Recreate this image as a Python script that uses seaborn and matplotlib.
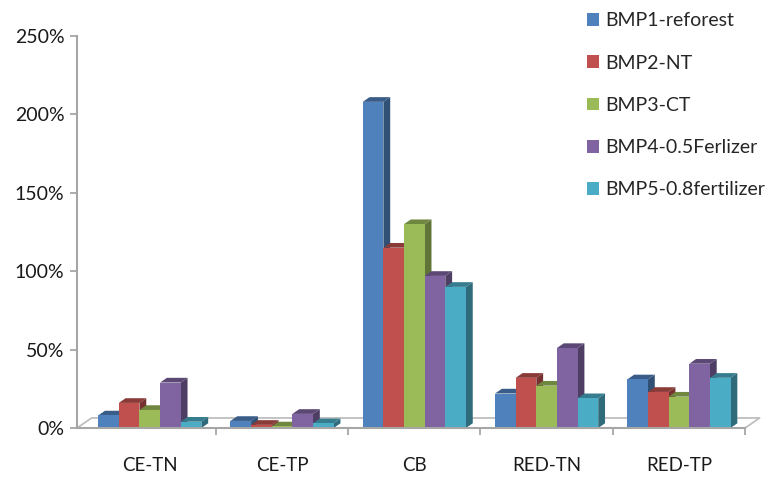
import numpy as np
import pandas as pd
import matplotlib.pyplot as plt
import matplotlib.colors as mcolors
from matplotlib.patches import Polygon
import seaborn as sns

sns.set_style("white")
plt.rcParams["font.family"] = ["Lato", "DejaVu Sans"]

categories = ["CE-TN", "CE-TP", "CB", "RED-TN", "RED-TP"]
scenarios = ["BMP1-reforest", "BMP2-NT", "BMP3-CT", "BMP4-0.5Ferlizer", "BMP5-0.8fertilizer"]
colors = ["#4F81BD", "#C0504D", "#9BBB59", "#8064A2", "#4BACC6"]

# values in %
bmp1 = [8, 4.5, 208, 22, 31]
bmp2 = [16, 2, 115, 32, 23]
bmp3 = [11.5, 1, 130, 27, 20]
bmp4 = [29, 9, 97, 51, 41]
bmp5 = [4, 3, 90, 19, 32]

df = pd.DataFrame({
    "Category": categories * 5,
    "Scenario": np.repeat(scenarios, len(categories)),
    "Value": bmp1 + bmp2 + bmp3 + bmp4 + bmp5,
})

fig = plt.figure(figsize=(7.81, 4.78), dpi=100)
ax = fig.add_axes([0.0986, 0.1046, 0.8554, 0.8201])

sns.barplot(data=df, x="Category", y="Value", hue="Scenario", palette=colors,
            saturation=1, width=0.78, linewidth=0, ax=ax)

# fake 3D: side and top faces built from each bar patch
dy = 3.0
for i, cont in enumerate(ax.containers):
    base = np.array(mcolors.to_rgb(colors[i]))
    for p in cont.patches:
        x0, w, h = p.get_x(), p.get_width(), p.get_height()
        dx = 0.33 * w
        x1 = x0 + w
        z = 2 + i * 0.1
        p.set_zorder(z + 0.01)
        side = Polygon([(x1, 0), (x1 + dx, dy), (x1 + dx, h + dy), (x1, h)],
                       closed=True, facecolor=base * 0.62, linewidth=0, zorder=z)
        top = Polygon([(x0, h), (x0 + dx, h + dy), (x1 + dx, h + dy), (x1, h)],
                      closed=True, facecolor=base * 0.72, linewidth=0, zorder=z)
        ax.add_patch(side)
        ax.add_patch(top)

ax.set_ylim(0, 250)
ax.set_xlim(-0.55, 4.5)
ax.set_yticks([0, 50, 100, 150, 200, 250])
ax.set_yticklabels(["0%", "50%", "100%", "150%", "200%", "250%"])
ax.set_xlabel("")
ax.set_ylabel("")

# floor outline
fx, fy = 0.11, 6.4
gray = "#A6A6A6"
ax.plot([-0.55, -0.55 + fx, 4.5 + fx, 4.5], [0, fy, fy, 0], color="#BFBFBF",
        linewidth=1.3, clip_on=False, zorder=1)

for s in ["top", "right"]:
    ax.spines[s].set_visible(False)
for s in ["left", "bottom"]:
    ax.spines[s].set_color(gray)
    ax.spines[s].set_linewidth(1.5)

ax.tick_params(axis="y", which="major", length=5, color=gray, width=1.3,
               labelsize=14, pad=4, left=True, labelcolor="#1a1a1a")
ax.tick_params(axis="x", which="major", length=0, labelsize=13.5, pad=21,
               labelcolor="#1a1a1a")
ax.set_xticks([0.5, 1.5, 2.5, 3.5, 4.5], minor=True)
ax.tick_params(axis="x", which="minor", length=5, color=gray, width=1.3,
               bottom=True, direction="out")

sns.move_legend(ax, "upper left", bbox_to_anchor=(0.729, 1.011),
                bbox_transform=fig.transFigure, frameon=False, title=None,
                fontsize=14, labelspacing=1.3, handlelength=0.64,
                handleheight=0.64, handletextpad=0.3)

fig.savefig("out.png", dpi=100)
